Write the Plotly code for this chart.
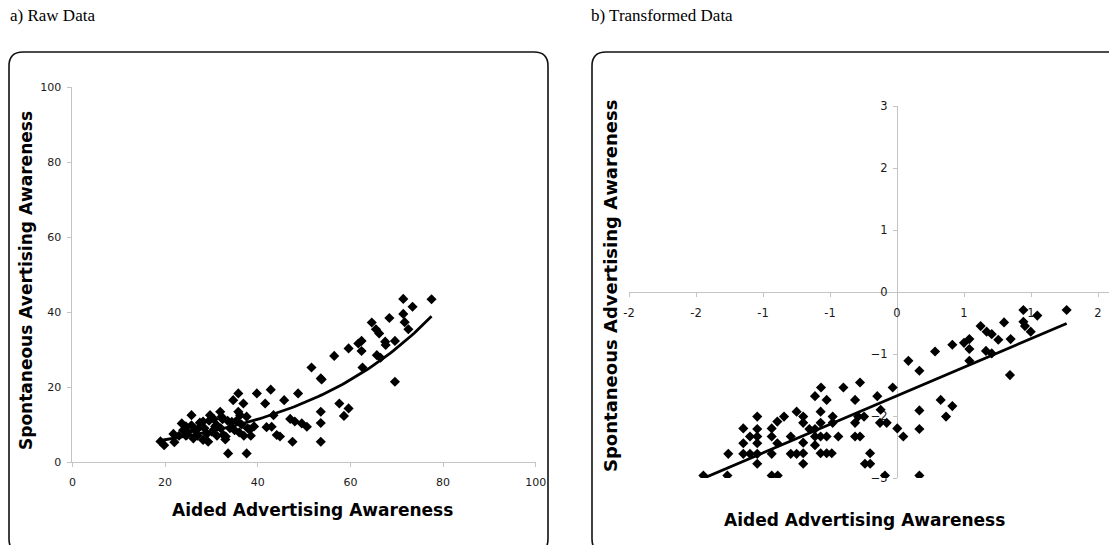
import numpy as np
import plotly.graph_objects as go

# ---------------- data ----------------
# a) Raw data: aided (x) vs spontaneous (y) awareness, %
raw_x = [19.0, 19.8, 21.8, 22.0, 23.0, 23.6, 23.9, 24.5, 24.7, 24.5, 25.0, 25.7, 25.7, 26.1, 26.5,
         27.0, 27.2, 27.5, 28.2, 28.2, 28.5, 29.0, 29.3, 29.5, 29.7, 30.1, 30.5, 30.8, 31.1, 31.2,
         31.9, 32.0, 32.2, 32.4, 32.6, 33.0, 33.1, 33.5, 33.6, 34.0, 34.4, 34.7, 35.0, 35.4, 35.8,
         35.8, 36.0, 36.2, 36.5, 36.9, 37.0, 37.6, 37.6, 37.8, 38.3, 38.5, 39.2, 39.8, 41.6, 41.9,
         42.8, 43.0, 43.4, 44.1, 44.8, 45.7, 47.0, 47.5, 48.0, 48.7, 49.5, 50.6, 51.6, 53.6, 53.8,
         53.6, 53.6, 53.6, 56.5, 57.6, 58.6, 59.6, 59.6, 61.7, 62.4, 62.4, 62.6, 64.6, 65.5, 65.7,
         66.2, 66.5, 67.5, 67.6, 68.4, 69.6, 69.6, 71.4, 71.4, 71.7, 72.5, 73.4, 77.5]
raw_y = [5.5, 4.5, 7.5, 5.3, 7.0, 10.3, 8.5, 9.5, 7.2, 7.0, 8.0, 12.5, 9.8, 6.3, 8.5,
         7.0, 9.0, 10.5, 5.9, 10.8, 9.0, 7.5, 5.4, 11.0, 12.5, 8.1, 11.5, 9.5, 9.9, 7.0,
         13.4, 9.0, 12.1, 11.4, 7.2, 6.0, 6.8, 11.0, 2.3, 9.0, 10.7, 16.5, 8.5, 11.0, 18.3,
         13.4, 7.9, 12.5, 10.0, 15.6, 7.0, 2.3, 12.1, 9.0, 8.7, 7.0, 9.5, 18.3, 15.6, 9.3,
         19.3, 9.4, 12.5, 7.2, 6.8, 16.5, 11.5, 5.4, 10.8, 18.3, 10.3, 9.4, 25.2, 22.3, 22.0,
         13.4, 10.4, 5.4, 28.3, 15.6, 12.3, 14.3, 30.3, 31.6, 32.3, 29.6, 25.2, 37.2, 35.4, 28.5,
         34.3, 27.8, 32.1, 31.2, 38.4, 32.3, 21.4, 43.5, 39.5, 37.3, 35.4, 41.4, 43.4]

# b) Transformed data
tr_x = [-1.445, -1.266, -1.259, -1.147, -1.147, -1.147, -1.097, -1.097, -1.043, -1.043, -1.043, -1.043,
        -1.043, -1.043, -0.935, -0.935, -0.935, -0.935, -0.890, -0.893, -0.843, -0.893, -0.793, -0.793,
        -0.749, -0.749, -0.700, -0.700, -0.654, -0.700, -0.700, -0.700, -0.612, -0.612, -0.612, -0.570,
        -0.570, -0.570, -0.570, -0.525, -0.487, -0.525, -0.480, -0.480, -0.438, -0.567, -0.612, -0.525,
        -0.400, -0.313, -0.276, -0.147, -0.032, -0.122, -0.246, -0.290, -0.313, -0.127, -0.077, 0.002,
        0.047, 0.167, 0.167, 0.167, 0.085, -0.313, -0.276, -0.201, -0.239, -0.200, -0.090, 0.167,
        0.326, 0.413, 0.366, 0.284, 0.413, 0.500, 0.540, 0.540, 0.540, 0.624, 0.669, 0.707,
        0.756, 0.664, 0.707, 0.799, 0.848, 0.843, 0.943, 1.047, 0.943, 0.955, 0.998, 1.266]
tr_y = [-2.96, -2.96, -2.61, -2.61, -2.44, -2.20, -2.33, -2.61, -2.01, -2.21, -2.33, -2.44,
        -2.61, -2.77, -2.20, -2.33, -2.61, -2.96, -2.96, -2.09, -2.01, -2.44, -2.33, -2.61,
        -1.93, -2.61, -2.01, -2.11, -2.21, -2.43, -2.60, -2.77, -2.21, -2.33, -2.47, -1.93,
        -2.11, -2.33, -2.60, -2.60, -2.60, -2.33, -2.01, -2.11, -2.33, -1.54, -1.68, -1.74,
        -1.54, -1.74, -1.46, -1.68, -1.54, -1.90, -2.01, -2.01, -2.11, -2.11, -2.11, -2.20,
        -2.33, -2.21, -1.91, -1.27, -1.11, -2.33, -2.33, -2.60, -2.77, -2.77, -2.96, -2.96,
        -1.74, -1.84, -2.01, -0.96, -0.85, -0.82, -0.76, -0.92, -1.11, -0.55, -0.64, -0.68,
        -0.77, -0.95, -0.99, -0.49, -0.76, -1.34, -0.29, -0.38, -0.48, -0.55, -0.64, -0.29]

raw_ticks = [0, 20, 40, 60, 80, 100]
tr_xticks = [-2, -1.5, -1, -0.5, 0, 0.5, 1, 1.5]
tr_xticktext = ["-2", "-2", "-1", "-1", "0", "1", "1", "2"]
tr_yticks = [-3, -2, -1, 0, 1, 2, 3]

# ---------------- trendlines (fitted from the data) ----------------
rx = np.array(raw_x); ry = np.array(raw_y)
b, lna = np.polyfit(rx, np.log(ry), 1)
fit_x = np.linspace(rx.min(), rx.max(), 80)
fit_y = np.exp(lna) * np.exp(b * fit_x)

tx = np.array(tr_x); ty = np.array(tr_y)
m, c = np.polyfit(tx, ty, 1)
lin_x = np.array([tx.min(), tx.max()])
lin_y = m * lin_x + c

# ---------------- layout helpers (pixel -> paper) ----------------
W, H = 1109, 545
def px(v): return v / W
def py(v): return 1 - v / H

TICKFONT = dict(family="DejaVu Sans", size=11, color="#1a1a1a")
TICKFONT2 = dict(family="DejaVu Sans", size=11.5, color="#1a1a1a")
TITLEFONT = dict(family="DejaVu Sans", size=17, color="#000")
TITLEFONT2 = dict(family="DejaVu Sans", size=18, color="#000")
AX = dict(showgrid=False, zeroline=False, showline=True, linecolor="#c4c4c4", linewidth=1,
          ticks="outside", ticklen=4, tickcolor="#c4c4c4", tickfont=TICKFONT, layer="below traces")

fig = go.Figure()
mk = dict(symbol="diamond", size=7.8, color="#000")
fig.add_trace(go.Scatter(x=raw_x, y=raw_y, mode="markers", marker=mk, xaxis="x", yaxis="y", showlegend=False))
fig.add_trace(go.Scatter(x=fit_x, y=fit_y, mode="lines", line=dict(color="#000", width=2.8), xaxis="x", yaxis="y", showlegend=False))
fig.add_trace(go.Scatter(x=tr_x, y=tr_y, mode="markers", marker=mk, xaxis="x2", yaxis="y2", showlegend=False))
fig.add_trace(go.Scatter(x=lin_x, y=lin_y, mode="lines", line=dict(color="#000", width=2.8), xaxis="x2", yaxis="y2", showlegend=False))

x0_px, x100_px = 72.4, 535.8
y0_px, y100_px = 462, 87
xr_left, xr_zero, unit_x = 629, 897, 134.0
yr_top, yr_bot = 106, 478

fig.update_layout(
    width=W, height=H, margin=dict(l=0, r=0, t=0, b=0, pad=0, autoexpand=False),
    paper_bgcolor="white", plot_bgcolor="rgba(0,0,0,0)", hovermode=False,
    xaxis=dict(AX, domain=[px(x0_px), px(x100_px)], range=[0, 100], tickvals=raw_ticks,
               anchor="y", ticklabelstandoff=6),
    yaxis=dict(AX, domain=[py(y0_px), py(y100_px)], range=[0, 100], tickvals=raw_ticks,
               anchor="x", ticklabelstandoff=4),
    xaxis2=dict(AX, domain=[px(xr_left), 1.0], range=[-2, (W - xr_zero) / unit_x],
                tickvals=tr_xticks, ticktext=tr_xticktext, anchor="free", position=py(292),
                ticklabelstandoff=6, tickfont=TICKFONT2),
    yaxis2=dict(AX, domain=[py(yr_bot), py(yr_top)], range=[-3, 3], tickvals=tr_yticks,
                anchor="free", position=px(xr_zero), ticklabelstandoff=3, tickfont=TICKFONT2),
)

def rounded(x0, y0, x1, y1, r):
    X = lambda v: px(v); Y = lambda v: py(v)
    return (f"M {X(x0+r)},{Y(y0)} L {X(x1-r)},{Y(y0)} Q {X(x1)},{Y(y0)} {X(x1)},{Y(y0+r)} "
            f"L {X(x1)},{Y(y1-r)} Q {X(x1)},{Y(y1)} {X(x1-r)},{Y(y1)} L {X(x0+r)},{Y(y1)} "
            f"Q {X(x0)},{Y(y1)} {X(x0)},{Y(y1-r)} L {X(x0)},{Y(y0+r)} Q {X(x0)},{Y(y0)} {X(x0+r)},{Y(y0)} Z")

fig.update_layout(shapes=[
    dict(type="path", xref="paper", yref="paper", path=rounded(9, 52, 548, 553, 14),
         line=dict(color="#111", width=1.6), layer="below"),
    dict(type="path", xref="paper", yref="paper", path=rounded(592, 52, 1125, 553, 14),
         line=dict(color="#111", width=1.6), layer="below"),
])

ann = []
ann.append(dict(text="a) Raw Data", x=px(8), y=py(15), xanchor="left", yanchor="middle",
                font=dict(family="Liberation Serif", size=17, color="#000")))
ann.append(dict(text="b) Transformed Data", x=px(589), y=py(15), xanchor="left", yanchor="middle",
                font=dict(family="Liberation Serif", size=17, color="#000")))
ann.append(dict(text="<b>Aided Advertising Awareness</b>", x=px(312), y=py(510), xanchor="center",
                yanchor="middle", font=TITLEFONT))
ann.append(dict(text="<b>Spontaneous Avertising Awareness</b>", x=px(26), y=py(281), xanchor="center",
                yanchor="middle", textangle=-90, font=TITLEFONT))
ann.append(dict(text="<b>Aided Advertising Awareness</b>", x=px(864), y=py(520), xanchor="center",
                yanchor="middle", font=TITLEFONT))
ann.append(dict(text="<b>Spontaneous Advertising Awareness</b>", x=px(610), y=py(286), xanchor="center",
                yanchor="middle", textangle=-90, font=TITLEFONT2))
for a in ann:
    a.update(xref="paper", yref="paper", showarrow=False)
fig.update_layout(annotations=ann)

fig.write_html("out.html", config={"displayModeBar": False, "staticPlot": True},
               post_script="document.body.style.margin='0px';")
